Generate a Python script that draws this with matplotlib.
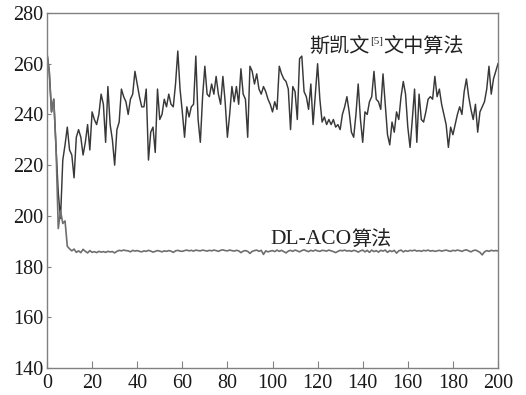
import numpy as np
import matplotlib
matplotlib.use("Agg")
import matplotlib.pyplot as plt

# ---- data ----
upper = [
    264, 257, 241, 246, 227, 209, 199, 222, 228, 235,
    226, 224, 215, 231, 234, 231, 224, 229, 236, 226,
    241, 238, 236, 240, 248, 244, 229, 251, 236, 230,
    220, 234, 237, 250, 247, 245, 240, 246, 248, 257,
    252, 247, 243, 243, 250, 222, 233, 235, 225, 250,
    238, 240, 246, 243, 248, 244, 243, 252, 265, 250,
    241, 231, 243, 239, 243, 244, 263, 238, 229, 247,
    259, 248, 247, 252, 248, 255, 248, 244, 255, 245,
    231, 240, 251, 245, 251, 244, 258, 248, 246, 231,
    259, 257, 252, 256, 250, 248, 251, 249, 246, 244,
    241, 245, 242, 259, 256, 254, 253, 250, 234, 251,
    249, 238, 262, 263, 249, 247, 242, 252, 236, 248,
    260, 246, 237, 239, 236, 238, 236, 238, 235, 236,
    234, 240, 243, 247, 241, 233, 231, 240, 252, 238,
    229, 241, 240, 245, 247, 257, 246, 245, 242, 256,
    244, 232, 228, 237, 233, 241, 238, 247, 253, 248,
    235, 227, 238, 250, 229, 248, 238, 237, 241, 246,
    247, 246, 255, 247, 250, 244, 240, 236, 227, 235,
    232, 236, 240, 243, 240, 249, 254, 247, 242, 238,
    244, 233, 241, 243, 245, 250, 259, 248, 254, 257,
    260,
]

lower = [
    264, 257, 241, 246, 227, 195, 202, 197, 198, 188,
    187.0, 186.2, 186.9, 185.6, 186.2, 185.5, 186.8, 186.0, 185.4, 186.3,
    185.6, 185.9, 185.5, 186.0, 185.7, 185.9, 185.6, 186.0, 185.8, 185.9,
    185.4, 186.0, 186.4, 186.2, 186.5, 186.3, 186.2, 185.8, 186.4, 186.1,
    186.3, 186.0, 185.8, 186.2, 186.0, 186.4, 186.1, 185.7, 186.0, 186.3,
    186.1, 185.8, 186.2, 186.0, 186.3, 186.1, 185.6, 186.2, 186.4, 186.1,
    186.0, 186.3, 186.5, 186.2, 186.4, 186.1, 186.5, 186.3, 186.2, 186.5,
    186.3, 186.1, 186.4, 186.2, 186.5, 186.3, 186.0, 186.4, 186.6, 186.3,
    186.2, 186.5, 186.3, 186.1, 186.4, 186.2, 185.5, 186.1, 186.3, 186.0,
    185.2, 186.0, 186.3, 186.5, 186.0, 186.4, 184.8, 186.2, 185.8, 186.1,
    186.3, 185.9, 186.5, 186.0, 186.4, 185.9, 185.4, 186.1, 186.4, 186.0,
    186.5, 186.2, 185.8, 186.3, 186.6, 186.2, 185.9, 186.4, 186.1, 186.5,
    186.2, 186.0, 186.4, 186.3, 186.1, 186.5, 186.2, 185.9, 185.5, 186.0,
    186.4, 186.2, 186.5, 186.1, 186.3, 186.0, 186.4, 186.2, 185.7, 186.2,
    186.5, 185.8, 186.4, 185.6, 186.5, 185.9, 186.3, 185.7, 186.4, 186.1,
    186.5, 185.6, 186.3, 185.9, 186.4, 185.3, 186.2, 186.5, 185.8, 186.3,
    186.0, 186.4, 186.2, 186.5, 186.1, 186.3, 186.0, 186.4, 186.2, 186.5,
    186.1, 186.3, 186.0, 186.2, 186.4, 186.1, 186.3, 186.5, 186.2, 186.0,
    186.4, 186.2, 186.5, 186.3, 186.0, 186.4, 186.6, 186.2, 185.8, 186.3,
    186.5, 186.1, 185.6, 184.6, 185.8, 186.3, 186.0, 186.4, 186.2, 186.3,
    186.2,
]

xticks = [0, 20, 40, 60, 80, 100, 120, 140, 160, 180, 200]
yticks = [140, 160, 180, 200, 220, 240, 260, 280]
label_upper_a = "斯凯文"
label_upper_ref = "[5]"
label_upper_b = "文中算法"
label_lower_a = "DL-ACO"
label_lower_b = "算法"

# ---- figure ----
fig = plt.figure(figsize=(5.26, 3.95), dpi=100)
fig.patch.set_facecolor("white")
ax = fig.add_axes([47 / 526, 1 - 368 / 395, (498 - 47) / 526, (368 - 13) / 395])

ax.plot(np.arange(len(upper)), upper, color="#383838", lw=1.05)
ax.plot(np.arange(len(lower)), lower, color="#6e6e6e", lw=1.2)

ax.set_xlim(0, 200)
ax.set_ylim(140, 280)
ax.set_xticks(xticks)
ax.set_yticks(yticks)

for s in ax.spines.values():
    s.set_color("#808080")
    s.set_linewidth(1.0)

ax.tick_params(axis="x", direction="in", length=5, width=0.8, color="#808080",
               labelsize=14.5, pad=4.0, labelcolor="#1a1a1a")
ax.tick_params(axis="y", direction="in", length=3, width=0.8, color="#808080",
               labelsize=14.5, pad=2.5, labelcolor="#1a1a1a")
for lab in ax.get_xticklabels() + ax.get_yticklabels():
    lab.set_family("Liberation Serif")

# annotations
cjk = "Noto Sans CJK SC"
t1 = ax.text(116.5, 267.0, label_upper_a, fontsize=14.5, family=cjk,
             ha="left", va="center", color="#222222")
t2 = ax.annotate(label_upper_ref, xy=(1.0, 0.92), xycoords=t1, ha="left", va="top",
                 fontsize=8, family="Liberation Serif", color="#222222")
t3 = ax.annotate(label_upper_b, xy=(1.0, 0), xycoords=(t2, t1), ha="left", va="bottom",
                 fontsize=14.5, family=cjk, color="#222222")

t4 = ax.text(98.9, 190.5, label_lower_a, fontsize=15.5,
             family="Liberation Serif", ha="left", va="center", color="#222222")
t5 = ax.annotate(label_lower_b, xy=(1.0, 0.5), xycoords=t4, ha="left", va="center",
                 fontsize=14.5, family=cjk, color="#222222")

fig.savefig("out.png", dpi=100, facecolor="white")
